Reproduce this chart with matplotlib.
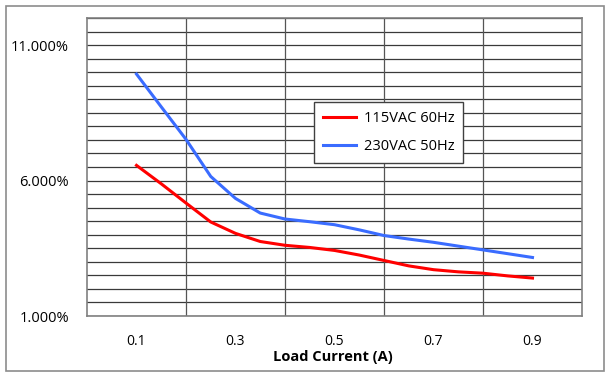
import matplotlib
matplotlib.use("Agg")
import matplotlib.pyplot as plt
from matplotlib.patches import Rectangle
from matplotlib.ticker import FixedLocator

plt.rcParams['font.family'] = ['Open Sans', 'DejaVu Sans']

load_current = [0.10, 0.15, 0.20, 0.25, 0.30, 0.35, 0.40, 0.45, 0.50,
                0.55, 0.60, 0.65, 0.70, 0.75, 0.80, 0.85, 0.90]
eff_115 = [6.56, 5.88, 5.17, 4.47, 4.05, 3.75, 3.61, 3.53, 3.42,
           3.25, 3.05, 2.85, 2.71, 2.63, 2.58, 2.48, 2.40]
eff_230 = [9.93, 8.72, 7.52, 6.15, 5.34, 4.80, 4.58, 4.48, 4.37,
           4.18, 3.97, 3.84, 3.72, 3.58, 3.44, 3.30, 3.16]
x_tick_labels = ["0.1", "0.3", "0.5", "0.7", "0.9"]
x_ticks = [0.1, 0.3, 0.5, 0.7, 0.9]
y_ticks = [1, 6, 11]
series_labels = ["115VAC 60Hz", "230VAC 50Hz"]

fig = plt.figure(figsize=(6.11, 3.76), dpi=100)
fig.patches.append(Rectangle((6/611, 1-371/376), 598/611, 365/376,
                             transform=fig.transFigure, fill=False,
                             edgecolor='#8c8c8c', linewidth=1.2))
ax = fig.add_axes([87/611, 1-316/376, 495/611, 298/376])

ax.set_xlim(0, 1.0)
ax.set_ylim(1, 12)

# grid
for y in [1 + 0.5 * i for i in range(23)]:
    ax.axhline(y, color='#3a3a3a', linewidth=0.9, zorder=1)
for x in [0.2, 0.4, 0.6, 0.8]:
    ax.axvline(x, color='#555555', linewidth=0.9, zorder=1)

ax.plot(load_current, eff_115, color='#ff0000', linewidth=2.2, label=series_labels[0],
        zorder=3, solid_joinstyle='round')
ax.plot(load_current, eff_230, color='#3a6cff', linewidth=2.2, label=series_labels[1],
        zorder=3, solid_joinstyle='round')

ax.xaxis.set_major_locator(FixedLocator(x_ticks))
ax.set_xticklabels(x_tick_labels)
ax.yaxis.set_major_locator(FixedLocator(y_ticks))
ax.set_yticklabels([f"{v:.3f}%" for v in y_ticks])
ax.tick_params(axis='both', length=0, labelsize=10.5, colors='black')
ax.tick_params(axis='y', pad=13)
ax.tick_params(axis='x', pad=13, labelsize=10)

for s in ax.spines.values():
    s.set_color('#808080')
    s.set_linewidth(1.2)

fig.text(333/611, 1-357/376, "Load Current (A)", fontsize=10.5, fontweight='bold',
         ha='center', va='center')

leg = ax.legend(loc='upper left', bbox_to_anchor=(227/495, (316-102)/298),
                frameon=True, fancybox=False, fontsize=10.5,
                handlelength=2.3, borderpad=0.6, labelspacing=0.9,
                handletextpad=0.5, borderaxespad=0)
leg.get_frame().set_edgecolor('#404040')
leg.get_frame().set_linewidth(1.0)
leg.get_frame().set_alpha(1)

fig.savefig("out.png", dpi=100)
